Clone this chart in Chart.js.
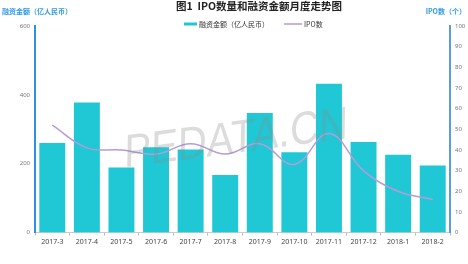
<!DOCTYPE html>
<html>
<head>
<meta charset="utf-8">
<script src="https://cdn.jsdelivr.net/npm/chart.js@4.4.0/dist/chart.umd.min.js"></script>
<style>
  html, body { margin: 0; padding: 0; background: #fff; }
  #wrap { width: 468px; height: 264px; position: relative; }
</style>
</head>
<body>
<div id="wrap"><canvas id="ipoChart"></canvas></div>
<script>
const months = ['2017-3','2017-4','2017-5','2017-6','2017-7','2017-8','2017-9','2017-10','2017-11','2017-12','2018-1','2018-2'];
const amount = [260, 378, 189, 248, 241, 167, 347, 233, 432, 263, 226, 195]; // 融资金额（亿人民币）
const ipoCount = [52, 41, 40, 38, 43, 38, 43, 33, 48, 30, 20, 16]; // IPO数
const leftTicks = [0, 200, 400, 600];
const rightTicks = [0, 10, 20, 30, 40, 50, 60, 70, 80, 90, 100];

// title, legend, corner axis titles, watermark
const extras = {
    id: 'extras',
    afterDatasetsDraw(chart) {
        const ctx = chart.ctx;
        ctx.save();
        ctx.translate(236, 140);
        ctx.rotate(-0.13);
        ctx.transform(1, 0, -0.15, 1, 0, 0);
        ctx.scale(0.88, 1);
        ctx.font = '46px "Liberation Sans"';
        ctx.fillStyle = 'rgba(140,140,140,0.3)';
        ctx.textAlign = 'center';
        ctx.textBaseline = 'middle';
        ctx.fillText('PEDATA.CN', 0, 0);
        ctx.restore();
    },
    afterDraw(chart) {
        const ctx = chart.ctx;
        const ds = chart.data.datasets;
        ctx.save();
        ctx.textBaseline = 'middle';
        ctx.font = 'bold 10.5px "Noto Sans CJK SC"';
        ctx.fillStyle = '#222';
        ctx.textAlign = 'center';
        ctx.fillText('图1  IPO数量和融资金额月度走势图', 259, 6);

        // legend
        ctx.font = '7px "Noto Sans CJK SC"';
        ctx.textAlign = 'left';
        let x = 184;
        const y = 24;
        ctx.fillStyle = ds[1].backgroundColor;
        ctx.fillRect(x, y - 1.5, 13, 3);
        x += 15;
        ctx.fillStyle = '#333';
        ctx.fillText(ds[1].label, x, y);
        x += ctx.measureText(ds[1].label).width + 15;
        ctx.strokeStyle = ds[0].borderColor;
        ctx.lineWidth = 1.5;
        ctx.beginPath();
        ctx.moveTo(x, y);
        ctx.lineTo(x + 18, y);
        ctx.stroke();
        x += 20;
        ctx.fillText(ds[0].label, x, y);

        ctx.font = 'bold 7px "Noto Sans CJK SC"';
        ctx.fillStyle = '#2f9be8';
        ctx.textAlign = 'left';
        ctx.fillText('融资金额（亿人民币）', 2, 11);
        ctx.textAlign = 'right';
        ctx.fillText('IPO数（个）', 466, 11);
        ctx.restore();
    }
};

new Chart(document.getElementById('ipoChart'), {
    data: {
        labels: months,
        datasets: [{
            type: 'line',
            label: 'IPO数',
            data: ipoCount,
            yAxisID: 'y1',
            borderColor: '#b59bd8',
            backgroundColor: '#b59bd8',
            borderWidth: 1.5,
            tension: 0.4,
            pointRadius: 0,
            order: 0
        }, {
            type: 'bar',
            label: '融资金额（亿人民币）',
            data: amount,
            yAxisID: 'y',
            backgroundColor: '#1fc8d4',
            categoryPercentage: 0.75,
            barPercentage: 1,
            order: 1
        }]
    },
    options: {
        responsive: true,
        maintainAspectRatio: false,
        animation: false,
        layout: { padding: { top: 26, bottom: 16, left: 0, right: 0 } },
        scales: {
            x: {
                offset: true,
                grid: { drawOnChartArea: false, tickLength: 3, color: '#bbb', offset: true },
                border: { color: '#ccc' },
                ticks: { color: '#444', font: { size: 7, family: 'Noto Sans' }, maxRotation: 0, padding: 2 }
            },
            y: {
                position: 'left',
                min: 0, max: 600,
                afterBuildTicks: s => { s.ticks = leftTicks.map(v => ({ value: v })); },
                grid: { display: false, drawTicks: false },
                border: { color: '#2f8fe0', width: 2 },
                ticks: { color: '#777', font: { size: 6, family: 'Noto Sans' }, padding: 5 },
                afterFit: s => { s.width = 35; }
            },
            y1: {
                position: 'right',
                min: 0, max: 100,
                afterBuildTicks: s => { s.ticks = rightTicks.map(v => ({ value: v })); },
                grid: { display: false, drawTicks: false },
                border: { color: '#5b9be0', width: 2 },
                ticks: { color: '#777', font: { size: 6, family: 'Noto Sans' }, padding: 5 },
                afterFit: s => { s.width = 18; }
            }
        },
        plugins: {
            legend: { display: false },
            tooltip: { enabled: false }
        }
    },
    plugins: [extras]
});
</script>
</body>
</html>
